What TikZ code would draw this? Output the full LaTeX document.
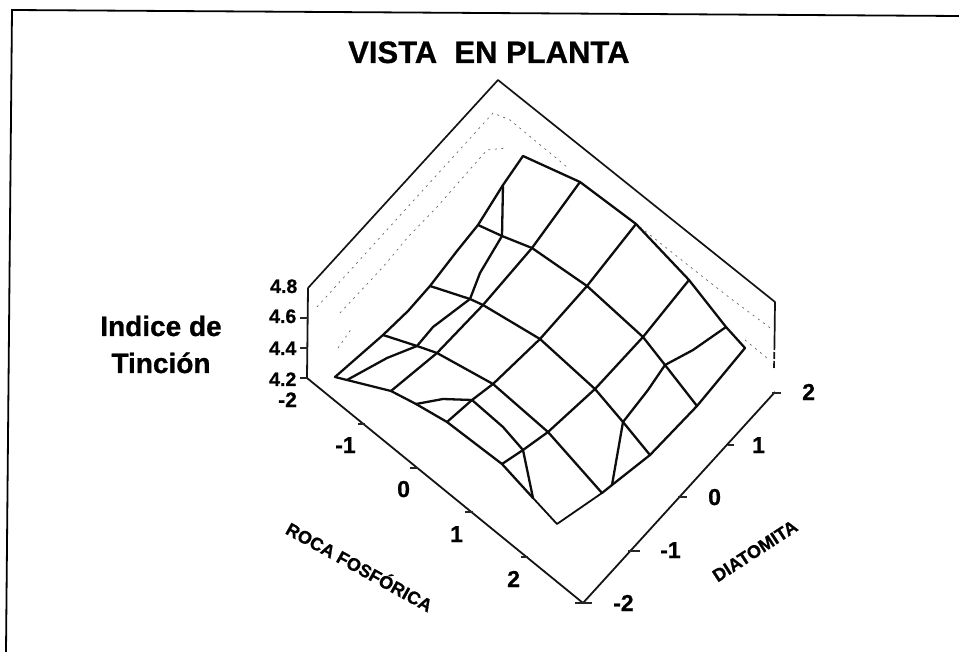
\documentclass[tikz,border=0pt]{standalone}
\usepackage{fontspec}
\setmainfont{Liberation Sans}
\newfontfamily\heavyfam[FakeBold=0.8]{Liberation Sans Bold}
\tikzset{
  mesh/.style={line width=2.3pt,line join=round,line cap=round,black!95},
  boxline/.style={line width=1.7pt,line join=round,black!92},
  axisline/.style={line width=1.8pt,black!92},
  tickmark/.style={line width=1.2pt,black!85},
  backdot/.style={line width=0.7pt,black!60,dash pattern=on 2pt off 4.5pt},
  framel/.style={line width=1.8pt,black},
  lbl/.style={inner sep=0pt,anchor=base west,font=\fontsize{#1}{#1}\heavyfam},
  lblc/.style={inner sep=0pt,anchor=base,font=\fontsize{#1}{#1}\heavyfam},
  lblr/.style={inner sep=0pt,anchor=center,font=\fontsize{#1}{#1}\heavyfam}
}
\begin{document}
\begin{tikzpicture}[x=1pt,y=-1pt]
\useasboundingbox (0,0) rectangle (959,652);
% frame
\draw[framel] (6,652) -- (12,10) -- (959,16);
% back dotted grid
\draw[backdot] (317,307) -- (493,113) -- (510,120) -- (567,167);
\draw[backdot] (640,227) -- (703,277) -- (730,298) -- (773,330);
\draw[backdot] (340,313) -- (383,267) -- (408,237) -- (437,207) -- (487,150) -- (507,148);
\draw[backdot] (745,340) -- (767,358);
\draw[backdot] (338,348) -- (352,328);
% box
\draw[boxline] (308,288) -- (498,80) -- (775,302) -- (774.5,343);
\draw[boxline,dash pattern=on 7pt off 2pt] (774.5,343) -- (774,368);
\draw[axisline] (308,288) -- (307,378);
\draw[axisline] (307,378) -- (583,603) -- (775,392);
% ticks
\draw[tickmark] (300,318) -- (308,318);
\draw[tickmark] (300,348) -- (308,348);
\draw[tickmark] (300,378) -- (307,378);
\draw[tickmark] (358,424) -- (365,424);
\draw[tickmark] (410,468) -- (418,468);
\draw[tickmark] (465,512) -- (473,512);
\draw[tickmark] (521,557) -- (528,557);
\draw[tickmark] (575,603) -- (592,603);
\draw[tickmark] (628,551) -- (640,551);
\draw[tickmark] (678,497) -- (687,497);
\draw[tickmark] (728,445) -- (734,445);
\draw[tickmark] (772,393) -- (781,393);
% surface outline
\draw[mesh] (523,156) -- (580,182) -- (636,224) -- (689,280) -- (726,327) -- (745,348)
  -- (697,406) -- (650,455) -- (612,485) -- (602,493);
\draw[mesh,line width=1.8pt] (602,493) -- (557,524) -- (533,498);
\draw[mesh] (533,498) -- (502,464) -- (447,422) -- (416,404) -- (391,391) -- (347,380) -- (335,377)
  -- (383,335) -- (408,311) -- (430,286) -- (457,251) -- (478,225) -- (503,185) -- (523,156);
% lines running down-right
\draw[mesh] (383,335) -- (417,346) -- (437,353) -- (493,384) -- (548,432) -- (602,493);
\draw[mesh] (430,286) -- (470,299) -- (483,305) -- (540,339) -- (595,389) -- (623,422) -- (650,455);
\draw[mesh] (478,225) -- (502,236) -- (532,248) -- (587,286) -- (643,337) -- (665,365) -- (697,406);
\draw[mesh] (416,404) -- (443,399) -- (472,400) -- (503,427) -- (523,450) -- (533,498);
% lines running down-left
\draw[mesh] (580,182) -- (532,248) -- (483,305) -- (437,353) -- (391,391);
\draw[mesh] (636,224) -- (587,286) -- (540,339) -- (493,384) -- (472,400) -- (447,422);
\draw[mesh] (689,280) -- (643,337) -- (595,389) -- (548,432) -- (523,450) -- (502,464);
\draw[mesh] (726,327) -- (693,350) -- (665,365) -- (648,390) -- (623,422) -- (612,485);
\draw[mesh] (503,185) -- (502,236) -- (480,273) -- (470,299) -- (433,327) -- (417,346) -- (387,358) -- (347,380);
% text
\node[lbl=31] (title) at (348,63) {VISTA\ \ EN PLANTA};
\node[lblc=28] (ind) at (161,336) {Indice de};
\node[lblc=28] (tin) at (161,373) {Tinción};
\node[lbl=19.5] (z48) at (270,293) {4.8};
\node[lbl=19.5] (z46) at (269,323) {4.6};
\node[lbl=19.5] (z44) at (269,355) {4.4};
\node[lbl=19.5] (z42) at (269,386) {4.2};
\node[lbl=21] (xm2) at (278,407) {-2};
\node[lbl=23] (xm1) at (335,453) {-1};
\node[lbl=23] (x0) at (397,497) {0};
\node[lbl=23] (x1) at (450,542) {1};
\node[lbl=23] (x2) at (507,587) {2};
\node[lbl=23] (ym2) at (613,611) {-2};
\node[lbl=23] (ym1) at (660,558) {-1};
\node[lbl=23] (y0) at (708,505) {0};
\node[lbl=23] (y1) at (752,453) {1};
\node[lbl=23] (y2) at (802,400) {2};
\node[lblr=18,rotate=-29] (roca) at (360,566) {ROCA FOSFÓRICA};
\node[lblr=18,rotate=33] (diat) at (755,551) {DIATOMITA};
\end{tikzpicture}
\end{document}
